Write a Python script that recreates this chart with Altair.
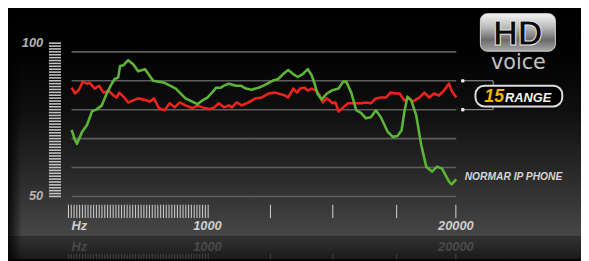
import altair as alt
import numpy as np
import pandas as pd

# ---------------- data ----------------
# position along the frequency axis (0 = left end of grid, 100 = right end / 20000 Hz)
green_pos = [0, 0.9, 1.4, 2.7, 4.0, 5.3, 6.5, 7.8, 9.1, 10.4,
             11.2, 12.1, 12.6, 13.5, 14.7, 16.0, 17.3, 19.1, 21.2, 24.2,
             27.1, 29.6, 32.7, 34.0, 35.3, 36.5, 37.6, 38.8, 39.6, 40.9,
             42.7, 44.0, 45.3, 46.8, 48.6, 49.9, 52.2, 53.7, 55.0, 56.3,
             57.6, 58.8, 60.1, 61.4, 62.4, 63.2, 63.9, 65.0, 66.3, 67.6,
             69.4, 70.6, 71.4, 72.7, 74.0, 75.3, 76.5, 77.8, 79.1, 80.4,
             82.2, 83.5, 84.7, 85.8, 86.5, 87.3, 88.3, 89.6, 90.9, 92.2,
             93.7, 95.0, 96.3, 98.1, 98.8, 100]
green_level = [73.0, 69.5, 68.2, 72.3, 74.7, 79.4, 80.1, 81.4, 85.5, 88.9,
               90.6, 91.1, 95.1, 95.4, 97.1, 95.7, 93.3, 94.0, 90.0, 89.3,
               87.3, 83.9, 81.9, 83.2, 84.2, 85.9, 87.6, 87.6, 88.3, 89.0,
               88.3, 88.3, 87.3, 86.9, 87.6, 88.3, 90.0, 90.6, 92.3, 93.7,
               92.3, 91.3, 92.3, 94.0, 91.9, 88.9, 85.5, 83.5, 85.5, 86.6,
               87.3, 89.7, 89.7, 85.9, 79.8, 78.8, 77.0, 77.4, 79.8, 77.4,
               72.3, 70.6, 70.9, 72.9, 79.1, 84.5, 83.2, 78.0, 67.8, 60.3,
               58.6, 60.3, 59.6, 55.2, 54.2, 55.9]

red_pos = [0, 0.9, 1.9, 2.9, 4.0, 4.7, 6.0, 7.1, 8.3, 9.6,
           10.9, 11.7, 12.4, 13.7, 14.7, 16.0, 17.3, 18.6, 20.4, 21.4,
           22.7, 24.2, 25.5, 26.8, 28.1, 29.6, 31.4, 32.7, 34.0, 35.8,
           37.1, 38.3, 39.6, 40.9, 41.7, 42.9, 44.2, 46.0, 47.8, 49.4,
           51.2, 52.9, 55.5, 56.3, 57.6, 58.6, 59.4, 60.6, 61.4, 62.4,
           63.7, 64.5, 65.3, 66.3, 67.1, 67.8, 68.6, 69.4, 70.6, 71.9,
           73.5, 75.3, 76.5, 77.8, 79.1, 80.4, 81.7, 82.9, 84.2, 85.3,
           86.5, 87.8, 88.6, 90.4, 91.7, 93.0, 94.2, 95.5, 96.8, 98.1,
           98.8, 100]
red_level = [87.6, 85.6, 86.9, 89.6, 89.0, 89.3, 87.3, 88.3, 85.9, 86.6,
             84.9, 84.2, 85.9, 84.2, 82.5, 83.2, 83.9, 83.5, 82.8, 83.9,
             80.5, 79.8, 82.2, 80.8, 82.5, 81.5, 80.5, 81.5, 80.8, 80.2,
             80.8, 82.2, 80.8, 81.5, 80.8, 82.5, 81.5, 82.5, 83.9, 84.2,
             85.6, 85.9, 84.9, 84.2, 87.3, 85.9, 87.3, 87.6, 86.6, 87.3,
             86.6, 84.9, 82.5, 83.9, 83.2, 82.2, 82.5, 79.4, 80.8, 82.2,
             82.2, 82.2, 82.5, 82.2, 83.9, 84.2, 84.2, 85.9, 85.6, 85.6,
             83.2, 83.9, 82.8, 84.2, 85.9, 84.2, 85.6, 84.9, 86.6, 89.0,
             86.6, 84.2]

grid_levels = [50, 60, 70, 80, 90, 100]
level_ticks = list(range(50, 104))
major_tick_pos = [51.7, 67.9, 84.5, 99.9]
x_labels = ["Hz", "1000", "20000"]
x_label_pos = [0, 35.3, 99.9]
y_labels = ["100", "50"]
y_label_level = [103.1, 50.1]
range_levels = [90, 80]
series_label = "NORMAR IP PHONE"

# ---------------- styling / layout ----------------
W, H = 581, 253
xs = alt.Scale(domain=[-16.538, 132.436], nice=False, zero=False)
ys = alt.Scale(domain=[28.274, 114.563], nice=False, zero=False)
RED = "#f0231c"
GREEN = "#5cb536"
LABEL_FONT = "Liberation Sans"
one = pd.DataFrame({"k": [0]})


def X(f):
    return alt.X(f, scale=xs, axis=None)


def Y(f):
    return alt.Y(f, scale=ys, axis=None)


def grad(stops, vertical=True):
    return alt.LinearGradient(
        gradient="linear",
        stops=[alt.GradientStop(color=c, offset=o) for o, c in stops],
        x1=0, y1=0, x2=0 if vertical else 1, y2=1 if vertical else 0,
    )


bg_main = alt.Chart(one).mark_rect(
    fill=grad([(0, "#000000"), (0.2, "#020202"), (0.45, "#0f0f0f"),
               (0.7, "#272727"), (0.88, "#3a3a3a"), (1, "#474747")])
).encode(x=alt.value(0), x2=alt.value(W), y=alt.value(0), y2=alt.value(230))

bg_band = alt.Chart(one).mark_rect(
    fill=grad([(0, "#323232"), (0.5, "#262626"), (1, "#1a1a1a")])
).encode(x=alt.value(0), x2=alt.value(W), y=alt.value(230), y2=alt.value(H))

bg_left = alt.Chart(one).mark_rect(
    fill=grad([(0, "rgba(0,0,0,0.85)"), (1, "rgba(0,0,0,0)")], vertical=False)
).encode(x=alt.value(0), x2=alt.value(14), y=alt.value(0), y2=alt.value(H))

grid_df = pd.DataFrame({"level": grid_levels, "start": 0, "end": 100})
grid = alt.Chart(grid_df).mark_rule(color="#5e5e5e", strokeWidth=1.6).encode(
    x=X("start:Q"), x2="end:Q", y=Y("level:Q"))

lt_df = pd.DataFrame({"level": level_ticks, "start": -5.9, "end": -2.76})
level_tick_col = alt.Chart(lt_df).mark_rule(color="#c4c4c4", strokeWidth=1.6).encode(
    x=X("start:Q"), x2="end:Q", y=Y("level:Q"))

dense = np.linspace(-0.82, 35.5, 51)
ft_df = pd.DataFrame({"pos": list(dense) + major_tick_pos, "top": 47.1, "bottom": 42.5})
freq_ticks = alt.Chart(ft_df).mark_rule(color="#c8c8c8", strokeWidth=1.1).encode(
    x=X("pos:Q"), y=Y("top:Q"), y2="bottom:Q")

rf_df = pd.DataFrame({"pos": list(dense) + major_tick_pos, "top": 30.1, "bottom": 28.3})
refl_ticks = alt.Chart(rf_df).mark_rule(color="#c8c8c8", strokeWidth=1.1, opacity=0.22).encode(
    x=X("pos:Q"), y=Y("top:Q"), y2="bottom:Q")

xl_df = pd.DataFrame({"label": x_labels, "pos": x_label_pos, "level": 39.9,
                      "align": ["left", "center", "center"]})
x_lab_left = alt.Chart(xl_df[xl_df["align"] == "left"]).mark_text(
    align="left", baseline="middle", font=LABEL_FONT, fontSize=13, fontStyle="italic",
    fontWeight="bold", color="#cfcfcf").encode(x=X("pos:Q"), y=Y("level:Q"), text="label:N")
x_lab_center = alt.Chart(xl_df[xl_df["align"] == "center"]).mark_text(
    align="center", baseline="middle", font=LABEL_FONT, fontSize=13, fontStyle="italic",
    fontWeight="bold", color="#cfcfcf").encode(x=X("pos:Q"), y=Y("level:Q"), text="label:N")

rl_df = xl_df.assign(level=32.6)
refl_left = alt.Chart(rl_df[rl_df["align"] == "left"]).mark_text(
    align="left", baseline="middle", font=LABEL_FONT, fontSize=13, fontStyle="italic",
    fontWeight="bold", color="#cfcfcf", opacity=0.2).encode(x=X("pos:Q"), y=Y("level:Q"), text="label:N")
refl_center = alt.Chart(rl_df[rl_df["align"] == "center"]).mark_text(
    align="center", baseline="middle", font=LABEL_FONT, fontSize=13, fontStyle="italic",
    fontWeight="bold", color="#cfcfcf", opacity=0.2).encode(x=X("pos:Q"), y=Y("level:Q"), text="label:N")

yl_df = pd.DataFrame({"label": y_labels, "level": y_label_level, "pos": -7.4})
y_lab = alt.Chart(yl_df).mark_text(
    align="right", baseline="middle", font=LABEL_FONT, fontSize=13, fontStyle="italic",
    fontWeight="bold", color="#b4b4b4").encode(x=X("pos:Q"), y=Y("level:Q"), text="label:N")

red_df = pd.DataFrame({"pos": red_pos, "level": red_level})
green_df = pd.DataFrame({"pos": green_pos, "level": green_level})
red_line = alt.Chart(red_df).mark_line(color=RED, strokeWidth=2.6, strokeJoin="round").encode(
    x=X("pos:Q"), y=Y("level:Q"), order="pos:Q")
green_line = alt.Chart(green_df).mark_line(color=GREEN, strokeWidth=2.6, strokeJoin="round").encode(
    x=X("pos:Q"), y=Y("level:Q"), order="pos:Q")

# range bracket
br_h = pd.DataFrame({"level": range_levels, "start": 101.7, "end": 109.6})
bracket_h = alt.Chart(br_h).mark_rule(color="#a0a0a0", strokeWidth=1).encode(
    x=X("start:Q"), x2="end:Q", y=Y("level:Q"))
br_v = pd.DataFrame({"pos": [109.6, 109.6], "a": [90, 80], "b": [88.3, 81.6]})
bracket_v = alt.Chart(br_v).mark_rule(color="#a0a0a0", strokeWidth=1).encode(
    x=X("pos:Q"), y=Y("a:Q"), y2="b:Q")
br_d = pd.DataFrame({"pos": [101.7, 101.7], "level": range_levels})
bracket_dots = alt.Chart(br_d).mark_point(filled=True, color="#e8e8e8", size=14, opacity=1).encode(
    x=X("pos:Q"), y=Y("level:Q"))

badge = alt.Chart(one).mark_rect(fill="#000000", stroke="#dedede", strokeWidth=2,
                                  cornerRadius=9).encode(
    x=alt.value(474), x2=alt.value(562), y=alt.value(77), y2=alt.value(98))
badge_15 = alt.Chart(pd.DataFrame({"t": ["15"]})).mark_text(
    align="left", baseline="alphabetic", font=LABEL_FONT, fontSize=18, fontStyle="italic",
    fontWeight="bold", color="#f5b400").encode(x=alt.value(483), y=alt.value(94), text="t:N")
badge_range = alt.Chart(pd.DataFrame({"t": ["RANGE"]})).mark_text(
    align="left", baseline="alphabetic", font=LABEL_FONT, fontSize=13, fontStyle="italic",
    fontWeight="bold", color="#f4f4f4").encode(x=alt.value(504), y=alt.value(93.5), text="t:N")

name_df = pd.DataFrame({"t": [series_label], "pos": [102.2], "level": [56.6]})
name_txt = alt.Chart(name_df).mark_text(
    align="left", baseline="middle", font=LABEL_FONT, fontSize=10.4, fontStyle="italic",
    fontWeight="bold", color="#d6d6d6").encode(x=X("pos:Q"), y=Y("level:Q"), text="t:N")

# HD voice logo
hd_box = alt.Chart(one).mark_rect(
    fill=grad([(0, "#f4f4f4"), (0.35, "#bdbdbd"), (0.7, "#6a6a6a"), (1, "#a8a8a8")]),
    stroke="#d8d8d8", strokeWidth=1, cornerRadius=7).encode(
    x=alt.value(479), x2=alt.value(555), y=alt.value(4), y2=alt.value(42))
hd_txt = alt.Chart(pd.DataFrame({"t": ["HD"]})).mark_text(
    align="center", baseline="alphabetic", font=LABEL_FONT, fontSize=35, fontWeight="bold",
    fill="#0a0a0a", stroke="#e6e6e6", strokeWidth=1).encode(
    x=alt.value(517), y=alt.value(36), text="t:N")
voice_txt = alt.Chart(pd.DataFrame({"t": ["voice"]})).mark_text(
    align="center", baseline="alphabetic", font="DejaVu Sans", fontSize=21,
    color="#c2c2c2").encode(x=alt.value(517.5), y=alt.value(60), text="t:N")

chart = alt.layer(
    bg_main, bg_band, bg_left, grid, level_tick_col, freq_ticks, refl_ticks,
    x_lab_left, x_lab_center, refl_left, refl_center, y_lab,
    red_line, green_line, bracket_h, bracket_v, bracket_dots,
    badge, badge_15, badge_range, name_txt, hd_box, hd_txt, voice_txt,
).properties(
    width=W, height=H, padding=0,
    autosize=alt.AutoSizeParams(type="none"),
    background="#000000",
).configure_view(stroke=None)

chart.save("out.html", embed_options={"renderer": "svg", "actions": False})
